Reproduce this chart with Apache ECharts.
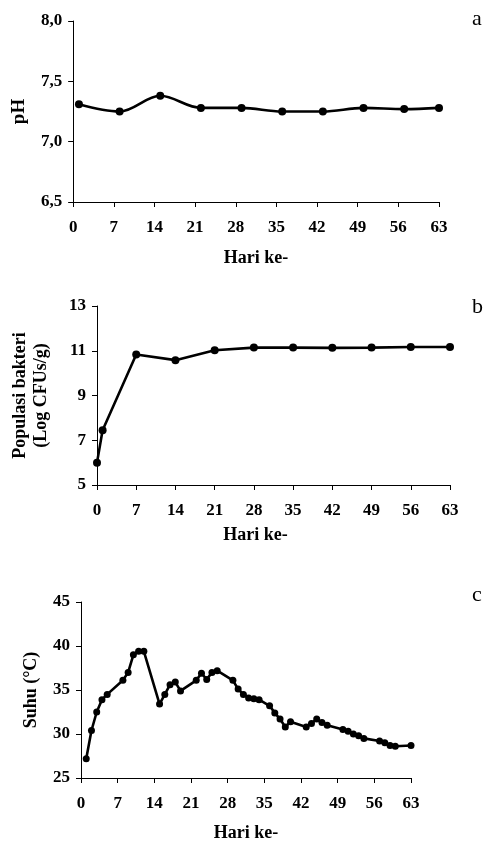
<!DOCTYPE html>
<html>
<head>
<meta charset="utf-8">
<script src="https://cdn.jsdelivr.net/npm/echarts@6/dist/echarts.min.js"></script>
<style>
html,body{margin:0;padding:0;background:#fff;}
#chart{width:486px;height:843px;}
</style>
</head>
<body>
<div id="chart"></div>
<script>
// ---- Data ----
const xTicks = [0, 7, 14, 21, 28, 35, 42, 49, 56, 63];

const phDays = [1, 8, 15, 22, 29, 36, 43, 50, 57, 63];
const phValues = [7.31, 7.25, 7.38, 7.28, 7.28, 7.25, 7.25, 7.28, 7.27, 7.28];
const phTicks = [6.5, 7.0, 7.5, 8.0];

const popDays = [0, 1, 7, 14, 21, 28, 35, 42, 49, 56, 63];
const popValues = [6.0, 7.45, 10.83, 10.58, 11.02, 11.14, 11.14, 11.13, 11.14, 11.17, 11.17];
const popTicks = [5, 7, 9, 11, 13];

const tempDays = [1, 2, 3, 4, 5, 8, 9, 10, 11, 12, 15, 16, 17, 18, 19, 22, 23, 24, 25, 26,
  29, 30, 31, 32, 33, 34, 36, 37, 38, 39, 40, 43, 44, 45, 46, 47, 50, 51, 52, 53, 54,
  57, 58, 59, 60, 63];
const tempValues = [27.2, 30.4, 32.5, 33.9, 34.5, 36.1, 37.0, 39.0, 39.4, 39.4, 33.4, 34.5, 35.6, 35.9, 34.9, 36.1, 36.9, 36.2, 37.0, 37.2,
  36.1, 35.1, 34.5, 34.1, 34.0, 33.9, 33.2, 32.4, 31.7, 30.8, 31.4, 30.8, 31.2, 31.7, 31.3, 31.0, 30.5, 30.3, 30.0, 29.8, 29.5,
  29.2, 29.0, 28.7, 28.6, 28.7];
const tempTicks = [25, 30, 35, 40, 45];

const xTitle = 'Hari ke-';
const phTitle = 'pH';
const popTitle = 'Populasi bakteri\n(Log CFUs/g)';
const tempTitle = 'Suhu (°C)';
const panelLetters = ['a', 'b', 'c'];

// ---- Styles ----
const FONT = '"Liberation Serif", "Times New Roman", serif';
const axisLineStyle = { show: true, lineStyle: { color: '#000', width: 1 } };
const tickStyle = { show: true, inside: false, length: 5, lineStyle: { color: '#000', width: 1 } };
const labelStyle = { color: '#000', fontFamily: FONT, fontWeight: 'bold', fontSize: 17 };
const nameStyle = { color: '#000', fontFamily: FONT, fontWeight: 'bold', fontSize: 18 };

function xAxis(gridIndex, gap, pad) {
  return {
    type: 'value', gridIndex, min: 0, max: 63, interval: 7,
    name: xTitle, nameLocation: 'middle', nameGap: gap,
    nameTextStyle: Object.assign({}, nameStyle, pad ? { padding: pad } : {}),
    axisLine: axisLineStyle, axisTick: Object.assign({}, tickStyle, { customValues: xTicks }),
    axisLabel: Object.assign({}, labelStyle, { margin: 17, customValues: xTicks }),
    splitLine: { show: false }
  };
}
function yAxis(gridIndex, min, max, ticks, name, gap, fmt, nameSize, lh) {
  return {
    type: 'value', gridIndex, min, max,
    name, nameLocation: 'middle', nameGap: gap,
    nameTextStyle: Object.assign({}, nameStyle, { fontSize: nameSize, lineHeight: lh }),
    axisLine: axisLineStyle, axisTick: Object.assign({}, tickStyle, { customValues: ticks }),
    axisLabel: Object.assign({}, labelStyle, { margin: 11, customValues: ticks, formatter: fmt }),
    splitLine: { show: false }
  };
}
function lineSeries(idx, days, values, smooth, size) {
  return {
    type: 'line', xAxisIndex: idx, yAxisIndex: idx,
    data: days.map((d, i) => [d, values[i]]),
    smooth: smooth ? 0.35 : false,
    symbol: 'circle', symbolSize: size,
    lineStyle: { color: '#000', width: 2.6 },
    itemStyle: { color: '#000' },
    animation: false
  };
}

const chart = echarts.init(document.getElementById('chart'), null, { renderer: 'canvas' });
chart.setOption({
  backgroundColor: '#fff',
  animation: false,
  grid: [
    { left: 73, right: 47, top: 21, height: 181 },
    { left: 97, right: 36, top: 306, height: 179 },
    { left: 81, right: 75, top: 602, height: 177 }
  ],
  xAxis: [
    xAxis(0, 47),
    xAxis(1, 41, [0, 36, 0, 0]),
    xAxis(2, 46)
  ],
  yAxis: [
    yAxis(0, 6.5, 8.0, phTicks, phTitle, 38, v => v.toFixed(1).replace('.', ','), 19, 22),
    yAxis(1, 5, 13, popTicks, popTitle, 45, v => String(v), 18, 21),
    yAxis(2, 25, 45, tempTicks, tempTitle, 38, v => String(v), 18, 22)
  ],
  series: [
    lineSeries(0, phDays, phValues, true, 8),
    lineSeries(1, popDays, popValues, false, 8),
    lineSeries(2, tempDays, tempValues, false, 7)
  ],
  graphic: [
    { type: 'text', left: 472, top: 8, style: { text: panelLetters[0], font: '22px ' + FONT, fill: '#000' } },
    { type: 'text', left: 472, top: 296, style: { text: panelLetters[1], font: '22px ' + FONT, fill: '#000' } },
    { type: 'text', left: 472, top: 584, style: { text: panelLetters[2], font: '22px ' + FONT, fill: '#000' } }
  ]
});
</script>
</body>
</html>
